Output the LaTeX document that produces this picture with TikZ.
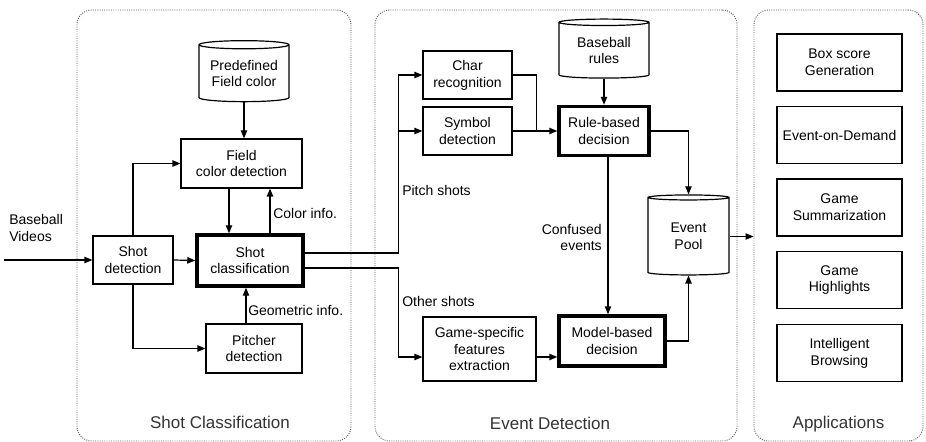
\documentclass[tikz,border=0pt]{standalone}
\usepackage{fontspec}
\setmainfont{Liberation Sans}
\usetikzlibrary{arrows.meta,shapes.geometric,calc}

\begin{document}
\begin{tikzpicture}[x=0.75pt,y=-0.75pt,
  font=\fontsize{10.5}{12.6}\selectfont,
  box/.style={draw,line width=0.9pt,align=center,inner sep=0pt},
  decision/.style={box,line width=2.6pt},
  store/.style={draw,line width=0.9pt,align=center,cylinder,shape border rotate=90,inner sep=0pt},
  panel/.style={draw=gray!70!black,densely dotted,line width=0.7pt,rounded corners=11pt,inner sep=0pt},
  flow/.style={line width=0.9pt,-{Triangle[length=6pt,width=4.8pt]}},
  lbl/.style={inner sep=0pt},
  paneltitle/.style={font=\fontsize{12.75}{15}\selectfont,text=black!80}]
\useasboundingbox (0,0) rectangle (926,442);

% the three stages
\node[panel,minimum width=205.5pt,minimum height=323.25pt] (clspanel) at (214,225.5) {};
\node[panel,minimum width=271.5pt,minimum height=323.25pt] (evtpanel) at (556,225.5) {};
\node[panel,minimum width=126.75pt,minimum height=323.25pt] (apppanel) at (838.5,225.5) {};
\node[paneltitle] (clstitle) at (220,422) {Shot Classification};
\node[paneltitle] (evttitle) at (550,423) {Event Detection};
\node[paneltitle] (apptitle) at (838.5,424) {Applications};

% shot classification
\node[lbl,anchor=west,align=left] (videos) at (9,228) {Baseball\\Videos};
\coordinate (in) at (4,260);
\node[box,minimum width=60pt,minimum height=36pt] (shotdet) at (133,260) {Shot\\detection};
\node[store,minimum width=67.5pt,minimum height=45.75pt,aspect=0.12] (predef) at (244,73.5) {Predefined\\Field color};
\node[box,minimum width=90.75pt,minimum height=36.75pt] (fieldcol) at (241.5,163.5) {Field\\color detection};
\node[decision,minimum width=79.5pt,minimum height=38.25pt] (shotcls) at (250,260.5) {Shot\\classification};
\node[box,minimum width=72pt,minimum height=36.75pt] (pitcher) at (254,348.5) {Pitcher\\detection};
\node[lbl,anchor=west] (colinfo) at (273,213) {Color info.};
\node[lbl,anchor=west] (geoinfo) at (248,310) {Geometric info.};

\draw[flow] (in) -- (shotdet.west);
\draw[flow] (shotdet.north) |- (fieldcol.west);
\draw[flow] (shotdet.south) |- (pitcher.west);
\draw[flow] (shotdet.east) -- (shotcls.west);
\draw[flow] (predef.south) -- (predef.south |- fieldcol.north);
\draw[flow] ($(fieldcol.south)+(-12.5,0)$) -- ($(shotcls.north)+(-21,0)$);
\draw[flow] ($(shotcls.north)+(20,0)$) -- ($(fieldcol.south)+(28.5,0)$);
\draw[flow] ($(pitcher.north)+(-8,0)$) -- ($(shotcls.south)+(-4,0)$);

% event detection
\node[box,minimum width=66.75pt,minimum height=36pt] (char) at (467.5,75) {Char\\recognition};
\node[box,minimum width=66.75pt,minimum height=36pt] (symbol) at (467.5,131) {Symbol\\detection};
\node[box,minimum width=84.75pt,minimum height=48pt] (game) at (479.5,349) {Game-specific\\features\\extraction};
\node[store,minimum width=67.5pt,minimum height=44.25pt,aspect=0.12] (rules) at (604,50.5) {Baseball\\rules};
\node[decision,minimum width=67.5pt,minimum height=36.75pt] (rule) at (604,131) {Rule-based\\decision};
\node[decision,minimum width=79.5pt,minimum height=37.5pt] (model) at (612,341) {Model-based\\decision};
\node[store,minimum width=60.75pt,minimum height=60pt,aspect=0.14] (pool) at (688.5,236.5) {Event\\Pool};
\node[lbl,anchor=west] (pitchlbl) at (402,190) {Pitch shots};
\node[lbl,anchor=west] (otherlbl) at (402,301) {Other shots};
\node[lbl,anchor=east,align=right] (conflbl) at (602,237.5) {Confused\\events};

\draw[flow] ($(shotcls.east)+(0,-7.5)$) -| ($(char.west)+(-24,0)$) -- (char.west);
\draw[flow] ($(symbol.west)+(-24,0)$) -- (symbol.west);
\coordinate (gin) at ($(game.west)+(0,8)$);
\draw[flow] ($(shotcls.east)+(0,7.5)$) -| ($(gin)+(-24,0)$) -- (gin);
\draw[line width=0.9pt] (char.east) -| ($(symbol.east)+(24,0)$);
\draw[flow] (symbol.east) -- (rule.west);
\draw[flow] (rules.south) -- (rule.north);
\draw[flow] (rule.east) -| (pool.north);
\coordinate (conf) at ($(rule.south)+(4,0)$);
\draw[flow] (conf) -- (conf |- model.north);
\coordinate (gout) at ($(game.east)+(0,8)$);
\draw[flow] (gout) -- (gout -| model.west);
\draw[flow] (model.east) -| (pool.south);
\draw[flow] (pool.east) -- (pool.east -| apppanel.west);

% applications
\node[box,minimum width=93.75pt,minimum height=42.75pt] (boxscore) at (839.5,62.5) {Box score\\Generation};
\node[box,minimum width=93.75pt,minimum height=42.75pt] (demand) at (839.5,135) {Event-on-Demand};
\node[box,minimum width=93.75pt,minimum height=42.75pt] (summary) at (839.5,207.5) {Game\\Summarization};
\node[box,minimum width=93.75pt,minimum height=42.75pt] (highlight) at (839.5,280) {Game\\Highlights};
\node[box,minimum width=93.75pt,minimum height=42.75pt] (browse) at (839.5,353) {Intelligent\\Browsing};
\end{tikzpicture}
\end{document}
